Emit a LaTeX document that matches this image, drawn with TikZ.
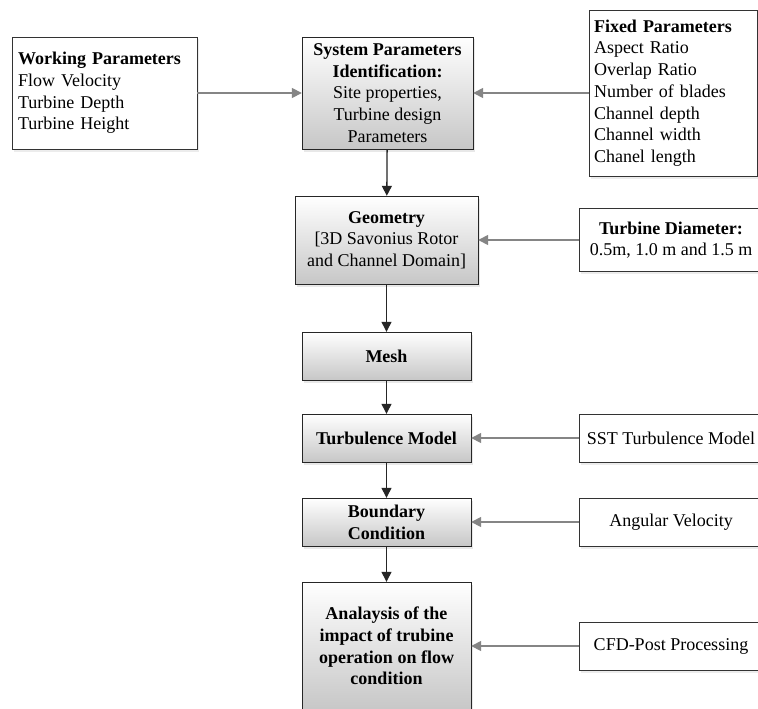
\documentclass[tikz,border=0pt]{standalone}
\usepackage{fontspec}
\setmainfont{Liberation Serif}
\usetikzlibrary{shadows, arrows.meta}

\begin{document}
\begin{tikzpicture}[
    x=1pt, y=-1pt,
    every node/.style={font=\fontsize{18}{21.7}\selectfont},
    stage/.style={
        rectangle,
        draw=black!85,
        top color=white,
        bottom color=black!22,
        drop shadow={opacity=0.18, shadow xshift=2pt, shadow yshift=-2.5pt},
        align=center,
        minimum width=169pt,
        font=\fontsize{18}{21.7}\selectfont\bfseries
    },
    param/.style={
        rectangle,
        draw=black!80,
        fill=white,
        drop shadow={opacity=0.15, shadow xshift=2pt, shadow yshift=-2.5pt},
        align=center
    },
    flow/.style={-{Triangle[length=10pt, width=10pt]}, line width=1.3pt, black!85},
    feed/.style={-{Triangle[length=10pt, width=10pt]}, line width=1.6pt, black!48}
]

\clip (0,0) rectangle (758,709);
\fill[white] (0,0) rectangle (758,709);

% main column
\node[stage, minimum width=171pt, minimum height=112pt] (sys) at (387.5,93)
    {System Parameters\\Identification:\\\mdseries Site properties,\\\mdseries Turbine design\\\mdseries Parameters};
\node[stage, minimum width=183pt, minimum height=88pt] (geo) at (386.5,240)
    {Geometry\\\mdseries [3D Savonius Rotor\\\mdseries and Channel Domain]};
\node[stage, minimum height=48pt] (mesh) at (386.5,356) {Mesh};
\node[stage, minimum height=48pt] (turb) at (386.5,438) {Turbulence Model};
\node[stage, minimum height=48pt] (bound) at (386.5,522) {Boundary\\Condition};
\node[stage, minimum height=128pt] (ana) at (386.5,646)
    {Analaysis of the\\impact of trubine\\operation on flow\\condition};

% inputs
\node[param, minimum width=185pt, minimum height=112pt, text width=173pt, align=left] (work) at (104.5,93)
    {\textbf{Working Parameters}\\Flow Velocity\\Turbine Depth\\Turbine Height};
\node[param, minimum width=168pt, minimum height=166pt, text width=158pt, align=left] (fixed) at (673,93)
    {\textbf{Fixed Parameters}\\Aspect Ratio\\Overlap Ratio\\Number of blades\\Channel depth\\Channel width\\Chanel length};
\node[param, minimum width=184pt, minimum height=63pt] (diam) at (671,240)
    {\textbf{Turbine Diameter:}\\0.5m, 1.0 m and 1.5 m};
\node[param, minimum width=184pt, minimum height=48pt] (sst) at (671,438) {SST Turbulence Model};
\node[param, minimum width=184pt, minimum height=48pt] (angv) at (671,522) {Angular Velocity};
\node[param, minimum width=184pt, minimum height=48pt] (cfd) at (671,646) {CFD-Post Processing};

\draw[flow] (sys) -- (geo);
\draw[flow] (geo) -- (mesh);
\draw[flow] (mesh) -- (turb);
\draw[flow] (turb) -- (bound);
\draw[flow] (bound) -- (ana);

\draw[feed] (work) -- (sys);
\draw[feed] (fixed) -- (sys);
\draw[feed] (diam) -- (geo);
\draw[feed] (sst) -- (turb);
\draw[feed] (angv) -- (bound);
\draw[feed] (cfd) -- (ana);

\end{tikzpicture}
\end{document}
